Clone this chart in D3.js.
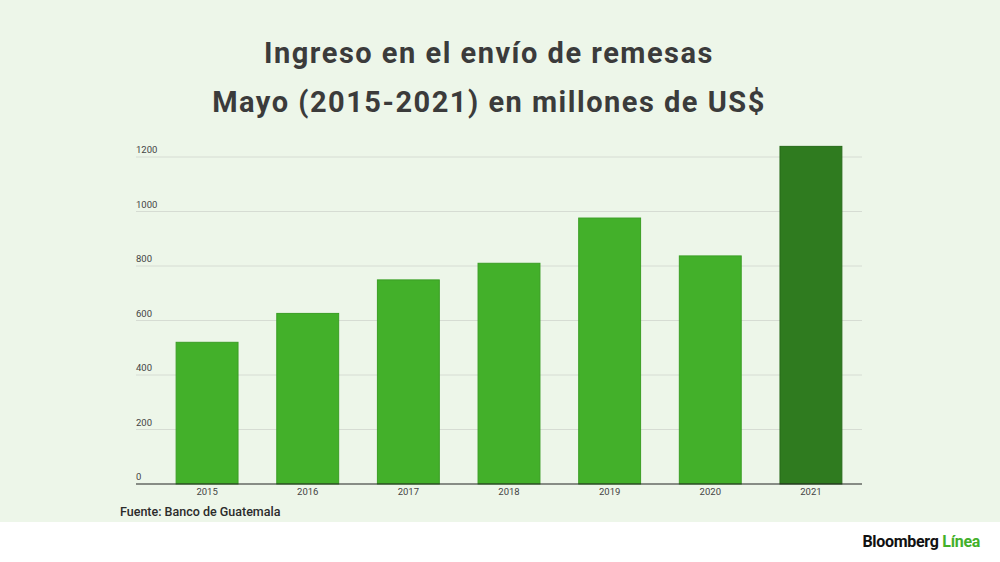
<!DOCTYPE html>
<html>
<head>
<meta charset="utf-8">
<script src="https://cdn.jsdelivr.net/npm/d3@7"></script>
<style>
  body { margin: 0; background: #fff; }
  text { font-family: Roboto, sans-serif; }
</style>
</head>
<body>
<svg id="chart"></svg>
<script>
const years = ['2015', '2016', '2017', '2018', '2019', '2020', '2021']
const values = [520, 626, 749, 810, 976, 837, 1239]
const yTicks = [0, 200, 400, 600, 800, 1000, 1200]
const titleLines = ['Ingreso en el envío de remesas', 'Mayo (2015-2021) en millones de US$']

let w = 1000, h = 562
let svg = d3.select('#chart').attr('width', w).attr('height', h)

// light green panel behind chart
svg.append('rect')
  .attr('width', w).attr('height', 522)
  .attr('fill', '#edf6e9')

svg.append('g').selectAll('text')
  .data(titleLines).enter()
  .append('text')
  .attr('x', 489)
  .attr('y', (d, i) => 63 + i * 48.5)
  .attr('text-anchor', 'middle')
  .attr('font-size', 29)
  .attr('font-weight', 700)
  .attr('letter-spacing', 1.5)
  .attr('fill', '#3b3b3b')
  .text(d => d)

let pLeft = 136, pRight = 862, pTop = 157, pBottom = 484

let x = d3.scaleBand()
  .domain(years)
  .range([156, pRight])
  .paddingInner(0.385)
  .paddingOuter(0.2)

let y = d3.scaleLinear()
  .domain([0, 1200])
  .range([pBottom, pTop])

// gridlines + labels
let grid = svg.append('g')
grid.selectAll('line')
  .data(yTicks.filter(d => d > 0)).enter()
  .append('line')
  .attr('x1', pLeft).attr('x2', pRight)
  .attr('y1', d => y(d)).attr('y2', d => y(d))
  .attr('stroke', '#d6dcd3')
  .attr('stroke-width', 1)

grid.selectAll('text')
  .data(yTicks).enter()
  .append('text')
  .attr('x', pLeft)
  .attr('y', d => y(d) - 4)
  .attr('font-size', 9.5)
  .attr('fill', '#444')
  .text(d => d)

svg.append('g').selectAll('rect')
  .data(values).enter()
  .append('rect')
  .attr('x', (d, i) => x(years[i]))
  .attr('y', d => y(d))
  .attr('width', x.bandwidth())
  .attr('height', d => pBottom - y(d))
  .attr('fill', (d, i) => i === years.length - 1 ? '#2f7b1f' : '#43b02a')
  .attr('stroke', (d, i) => i === years.length - 1 ? '#266a18' : '#3a9e24')
  .attr('stroke-width', 1)

// x axis
let xAxis = svg.append('g')
  .attr('transform', `translate(0, ${pBottom})`)
  .call(d3.axisBottom(x).tickSize(0).tickPadding(4))
xAxis.select('.domain').remove()
xAxis.append('line')
  .attr('x1', pLeft).attr('x2', pRight)
  .attr('stroke', '#222').attr('stroke-width', 1.2)
xAxis.selectAll('.tick text')
  .attr('font-family', 'Roboto, sans-serif')
  .attr('font-size', 9.5)
  .attr('fill', '#444')

svg.append('text')
  .attr('x', 120).attr('y', 516)
  .attr('font-size', 12.5)
  .attr('font-weight', 500)
  .attr('fill', '#2b2b2b')
  .text('Fuente: Banco de Guatemala')

let logo = svg.append('text')
  .attr('x', 980).attr('y', 547)
  .attr('text-anchor', 'end')
  .attr('font-family', '"Liberation Sans", Arial, sans-serif')
  .attr('font-size', 16)
  .attr('font-weight', 700)
  .attr('letter-spacing', -0.3)
logo.append('tspan').attr('fill', '#111').text('Bloomberg ')
logo.append('tspan').attr('fill', '#43b02a').text('Línea')
</script>
</body>
</html>
